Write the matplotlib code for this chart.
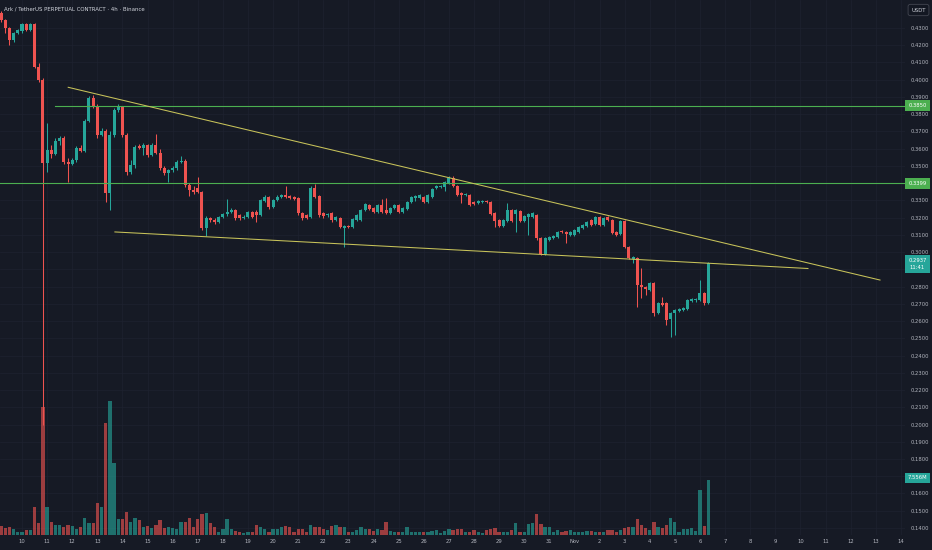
"""ARK/USDT perp 4h chart, TradingView dark style — descending channel with S/R levels."""
import numpy as np
import matplotlib
matplotlib.use("Agg")
import matplotlib.pyplot as plt
from matplotlib.transforms import blended_transform_factory as blend

# ---- data: 4h candles from Oct 9 04:00 to Nov 6 08:00 ----
opens = [.4388, .4346, .4300, .4230, .4271, .4283, .4323, .4288, .4323, .4074,
         .3998, .3517, .3592, .3569, .3645, .3662, .3523, .3511, .3534, .3604,
         .3587, .3761, .3894, .3842, .3680, .3703, .3343, .3680, .3824, .3842,
         .3680, .3465, .3505, .3616, .3604, .3621, .3563, .3621, .3575, .3488,
         .3459, .3476, .3488, .3523, .3529, .3389, .3361, .3372, .3349, .3140,
         .3198, .3186, .3175, .3204, .3221, .3233, .3244, .3215, .3198, .3204,
         .3233, .3233, .3215, .3297, .3320, .3262, .3302, .3320, .3331, .3326,
         .3320, .3314, .3227, .3215, .3204, .3372, .3326, .3227, .3215, .3227,
         .3186, .3198, .3140, .3152, .3146, .3186, .3186, .3244, .3273, .3256,
         .3233, .3273, .3244, .3227, .3256, .3273, .3233, .3250, .3291, .3314,
         .3314, .3320, .3291, .3320, .3372, .3378, .3378, .3401, .3430, .3384,
         .3343, .3331, .3331, .3291, .3285, .3291, .3297, .3291, .3227, .3186,
         .3152, .3181, .3244, .3221, .3239, .3181, .3204, .3204, .3215, .3082,
         .2989, .3070, .3082, .3088, .3122, .3117, .3099, .3099, .3117, .3140,
         .3152, .3186, .3163, .3204, .3157, .3204, .3186, .3117, .3105, .3181,
         .3030, .2960, .2966, .2809, .2798, .2780, .2821, .2647, .2705, .2705,
         .2612, .2647, .2659, .2664, .2670, .2716, .2722, .2722, .2763, .2705]
highs = [.4399, .4352, .4306, .4277, .4294, .4329, .4329, .4329, .4329, .4097,
         .4010, .3749, .3621, .3662, .3674, .3674, .3546, .3546, .3616, .3621,
         .3772, .3906, .3911, .3859, .3720, .3714, .3703, .3836, .3859, .3848,
         .3691, .3534, .3621, .3627, .3633, .3627, .3633, .3685, .3598, .3500,
         .3482, .3500, .3534, .3558, .3540, .3401, .3384, .3436, .3355, .3210,
         .3204, .3198, .3210, .3227, .3308, .3256, .3250, .3221, .3215, .3239,
         .3239, .3244, .3308, .3331, .3326, .3308, .3331, .3337, .3384, .3331,
         .3326, .3320, .3233, .3221, .3384, .3395, .3331, .3233, .3227, .3233,
         .3210, .3204, .3157, .3157, .3198, .3221, .3250, .3285, .3279, .3262,
         .3279, .3308, .3314, .3262, .3279, .3279, .3262, .3297, .3326, .3331,
         .3337, .3326, .3337, .3372, .3389, .3389, .3413, .3442, .3442, .3389,
         .3349, .3343, .3337, .3297, .3302, .3302, .3302, .3297, .3233, .3192,
         .3192, .3285, .3250, .3250, .3244, .3215, .3227, .3233, .3221, .3088,
         .3088, .3094, .3099, .3122, .3128, .3122, .3122, .3134, .3152, .3163,
         .3181, .3192, .3210, .3210, .3204, .3210, .3192, .3122, .3186, .3186,
         .3036, .2978, .2972, .2908, .2803, .2827, .2827, .2711, .2740, .2711,
         .2653, .2670, .2676, .2682, .2728, .2734, .2734, .2838, .2768, .2940]
lows = [.4335, .4271, .4201, .4219, .4265, .4271, .4283, .4283, .4068, .3987,
        .2000, .3465, .3546, .3563, .3621, .3511, .3407, .3505, .3523, .3581,
        .3581, .3755, .3836, .3662, .3674, .3291, .3244, .3668, .3813, .3668,
        .3447, .3453, .3488, .3598, .3563, .3552, .3558, .3569, .3476, .3447,
        .3407, .3465, .3476, .3517, .3378, .3326, .3337, .3343, .3128, .3094,
        .3175, .3163, .3169, .3198, .3210, .3227, .3186, .3186, .3192, .3198,
        .3198, .3175, .3210, .3291, .3250, .3256, .3297, .3314, .3314, .3308,
        .3302, .3215, .3186, .3192, .3198, .3314, .3204, .3198, .3204, .3175,
        .3181, .3140, .3030, .3140, .3140, .3181, .3181, .3239, .3244, .3227,
        .3227, .3227, .3221, .3221, .3250, .3227, .3227, .3244, .3285, .3297,
        .3308, .3285, .3285, .3314, .3366, .3372, .3355, .3395, .3378, .3326,
        .3285, .3326, .3268, .3273, .3279, .3285, .3285, .3215, .3146, .3146,
        .3146, .3175, .3175, .3117, .3175, .3175, .3099, .3198, .3070, .2984,
        .2984, .3065, .3076, .3082, .3111, .3053, .3094, .3094, .3111, .3134,
        .3146, .3152, .3157, .3152, .3152, .3181, .3105, .3094, .3099, .3024,
        .2960, .2937, .2682, .2734, .2751, .2774, .2630, .2641, .2688, .2577,
        .2508, .2519, .2653, .2659, .2664, .2711, .2711, .2716, .2693, .2699]
closes = [.4346, .4300, .4230, .4271, .4288, .4323, .4288, .4323, .4074, .3998,
          .3517, .3592, .3569, .3645, .3662, .3523, .3511, .3534, .3604, .3587,
          .3761, .3894, .3842, .3680, .3703, .3343, .3680, .3824, .3842, .3680,
          .3465, .3505, .3610, .3604, .3621, .3563, .3621, .3575, .3488, .3459,
          .3476, .3488, .3523, .3529, .3389, .3361, .3349, .3349, .3140, .3198,
          .3186, .3175, .3204, .3221, .3233, .3244, .3198, .3198, .3204, .3233,
          .3204, .3215, .3302, .3320, .3262, .3302, .3320, .3331, .3320, .3314,
          .3308, .3227, .3198, .3198, .3372, .3320, .3215, .3210, .3221, .3186,
          .3204, .3146, .3152, .3146, .3192, .3215, .3244, .3279, .3250, .3233,
          .3273, .3233, .3227, .3256, .3273, .3233, .3256, .3291, .3320, .3326,
          .3331, .3291, .3331, .3366, .3384, .3384, .3407, .3430, .3384, .3331,
          .3331, .3337, .3273, .3279, .3297, .3297, .3291, .3221, .3181, .3152,
          .3186, .3244, .3181, .3244, .3181, .3210, .3221, .3227, .3082, .2989,
          .3082, .3088, .3094, .3117, .3117, .3105, .3117, .3128, .3146, .3157,
          .3175, .3157, .3204, .3157, .3198, .3186, .3111, .3099, .3181, .3030,
          .2966, .2972, .2809, .2798, .2786, .2821, .2647, .2705, .2693, .2606,
          .2647, .2664, .2670, .2676, .2722, .2728, .2728, .2763, .2705, .2937]
volumes = [1.24, 0.92, 1.06, 0.78, 0.45, 0.45, 0.69, 0.69, 3.81, 1.61,
           17.55, 3.89, 1.74, 1.37, 1.42, 1.14, 1.33, 1.24, 0.78, 1.06,
           2.34, 1.69, 1.61, 4.36, 3.81, 15.43, 18.41, 9.93, 2.16, 2.16,
           3.12, 1.74, 2.29, 2.06, 1.14, 1.24, 0.96, 1.42, 2.06, 0.96,
           1.06, 0.96, 0.78, 1.74, 1.74, 2.29, 1.14, 2.20, 2.84, 3.02,
           1.61, 1.14, 0.45, 0.78, 2.20, 0.78, 0.55, 0.45, 0.32, 0.37,
           0.45, 1.37, 1.14, 0.78, 0.45, 0.82, 0.78, 1.06, 1.24, 1.06,
           0.45, 0.78, 0.78, 0.45, 1.37, 1.06, 1.06, 0.78, 0.69, 1.24,
           1.37, 1.06, 1.14, 0.45, 0.45, 0.69, 1.14, 0.87, 0.78, 0.59,
           0.82, 0.69, 1.74, 0.59, 0.37, 0.45, 0.45, 1.14, 0.45, 0.37,
           0.37, 0.45, 0.45, 0.59, 0.69, 0.32, 0.59, 0.78, 0.69, 0.78,
           0.78, 0.45, 0.37, 0.69, 0.45, 0.32, 0.69, 0.78, 0.92, 0.45,
           0.37, 0.45, 0.69, 1.61, 0.45, 0.45, 1.51, 1.69, 2.89, 1.51,
           1.06, 1.14, 0.45, 0.69, 0.45, 0.59, 0.69, 0.45, 0.45, 0.45,
           0.59, 0.59, 0.45, 0.45, 0.45, 0.69, 0.69, 0.45, 0.69, 1.00,
           1.14, 1.06, 2.16, 1.37, 1.00, 0.69, 1.83, 1.06, 1.00, 1.37,
           2.34, 1.74, 0.45, 0.78, 0.78, 0.92, 0.59, 6.18, 1.24, 7.556]   # millions

day_labels = [str(d) for d in range(10, 32)] + ["Nov"] + [str(d) for d in range(2, 15)]
levels = [0.3850, 0.3399]                  # horizontal S/R lines
upper_tl = ([1.84, 34.17], [0.3956, 0.2838])   # (days since Oct 10, price)
lower_tl = ([3.70, 31.30], [0.3117, 0.2905])
last_price, countdown = 0.2937, "11:41"
hidden_ticks = (0.34, 0.29, 0.17)          # scale labels covered by the price tags

# ---- style ----
BG, GRID, TXT = "#161a25", "#1e2230", "#b2b5be"
UP, DN = "#26a69a", "#ef5350"
LVL, TL = "#4caf50", "#c8c35a"
FS = 3.8

o, h, l, c = map(np.array, (opens, highs, lows, closes))
t = (np.arange(len(o)) - 5) / 6.0          # days since Oct 10 00:00
up = c >= o
col = np.where(up, UP, DN)

fig = plt.figure(figsize=(9.32, 5.5), dpi=100)
fig.patch.set_facecolor(BG)
ax = fig.add_axes([0, 15 / 550, 905 / 932, 535 / 550])
ax.set_facecolor(BG)

# volume overlay on its own scale (twin first, so the price axis can keep its right-hand ticks)
axv = ax.twinx()
axv.set_ylim(0, 7.556 * 535 / 55)
axv.bar(t, volumes, 0.13, color=col, alpha=0.62, lw=0)
axv.set_yticks([])
for sp in axv.spines.values(): sp.set_visible(False)

ax.set_xlim(-0.876, 35.165)
ax.set_ylim(0.13591, 0.44624)
ax.set_xticks(range(len(day_labels)))
ax.set_xticklabels(day_labels)
ticks = np.round(np.arange(0.14, 0.4301, 0.01), 2)
ax.set_yticks(ticks)
ax.set_yticklabels(["" if v in hidden_ticks else f"{v:.4f}" for v in ticks])
ax.yaxis.tick_right()
ax.tick_params(axis="both", length=0, labelsize=FS, labelcolor=TXT)
ax.tick_params(axis="x", pad=3)
ax.tick_params(axis="y", pad=4.3)
ax.grid(color=GRID, lw=0.5)
ax.set_axisbelow(True)
for sp in ax.spines.values(): sp.set_visible(False)

# candles
ax.vlines(t, np.minimum(l, np.minimum(o, c)), np.maximum(h, np.maximum(o, c)), colors=col, lw=0.75, zorder=3)
ax.bar(t, np.maximum(np.abs(c - o), 0.0006), 0.12, bottom=np.minimum(o, c), color=col, lw=0, zorder=4)

# levels + trendlines
ax.axhline(levels[1], color=LVL, lw=0.8, zorder=5)
ax.plot([1.314, 35.5], [levels[0]] * 2, color=LVL, lw=0.8, zorder=5)
ax.plot(*upper_tl, color=TL, lw=0.75, zorder=5)
ax.plot(*lower_tl, color=TL, lw=0.75, zorder=5)

# right-hand price tags
def tag(axis, y, s, fc, fg="white"):
    axis.text(1 + 12.5 / 905, y, s, transform=blend(ax.transAxes, axis.transData), ha="center", va="center",
              fontsize=FS, color=fg, linespacing=1.35, clip_on=False, zorder=10,
              bbox=dict(boxstyle="square,pad=0.55", fc=fc, ec="none"))
tag(ax, levels[0], f"{levels[0]:.4f}", LVL)
tag(ax, levels[1], f"{levels[1]:.4f}", LVL)
tag(ax, 0.2931, f"{last_price:.4f}\n{countdown}", UP)
tag(axv, volumes[-1] + 0.28, "7.556M", UP)

fig.text(918.5 / 932, 1 - 10 / 550, "USDT", fontsize=FS, color="#d1d4dc", ha="center", va="center",
         bbox=dict(boxstyle="round,pad=0.6,rounding_size=0.4", fc="#131722", ec="#434651", lw=0.6))
fig.text(4 / 932, 1 - 9 / 550, "Ark / TetherUS PERPETUAL CONTRACT · 4h · Binance",
         fontsize=3.9, color="#d1d4dc", ha="left", va="center")

fig.savefig("out.png", dpi=100, facecolor=BG)
